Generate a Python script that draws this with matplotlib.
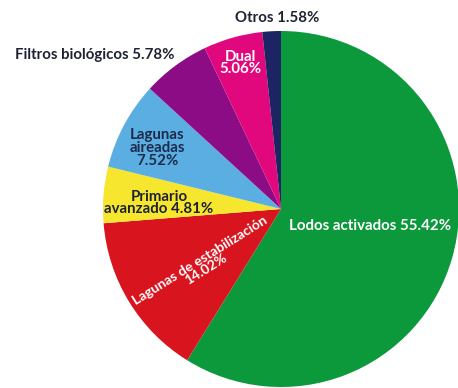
import matplotlib.pyplot as plt

# shares of treatment types (%)
tipos = ["Lodos activados", "Lagunas de estabilización", "Primario avanzado",
         "Lagunas aireadas", "Filtros biológicos", "Dual", "Otros"]
valores = [55.42, 14.02, 4.81, 7.52, 5.78, 5.06, 1.58]
colores = ["#0c993c", "#d8141e", "#f7e62e", "#5aaee2", "#8c0c86", "#e1077c", "#1c2463"]

W, H = 458, 388
cx, cy, r = 281, 209, 178

fig = plt.figure(figsize=(W / 100, H / 100), dpi=100)
ax = fig.add_axes([0, 0, 1, 1])
ax.pie(valores, colors=colores, startangle=90, counterclock=False,
       radius=1, wedgeprops=dict(linewidth=0))
ax.set_aspect("equal")
ax.set_xlim(-cx / r, (W - cx) / r)
ax.set_ylim(-(H - cy) / r, cy / r)
ax.axis("off")

def px(x, y):
    # pixel position -> axes fraction
    return x / W, 1 - y / H

fnt = dict(family="Lato", weight="bold", fontsize=10.8)
oscuro = "#1d2233"

ax.text(*px(289, 226), "Lodos activados 55.42%", transform=ax.transAxes,
        color="white", ha="left", va="center", **fnt)
ax.text(*px(203, 265), "Lagunas de estabilización\n14.02%", transform=ax.transAxes,
        color="white", ha="center", va="center", rotation=32,
        linespacing=0.85, family="Lato", weight="bold", fontsize=10)
ax.text(*px(159, 203), "Primario\navanzado 4.81%", transform=ax.transAxes,
        color=oscuro, ha="center", va="center", linespacing=0.85, **fnt)
ax.text(*px(157, 148), "Lagunas\naireadas\n7.52%", transform=ax.transAxes,
        color="#1d2a4a", ha="center", va="center", linespacing=0.9, **fnt)
ax.text(*px(95, 55), "Filtros biológicos 5.78%", transform=ax.transAxes,
        color=oscuro, ha="center", va="center", **fnt)
ax.text(*px(240, 63), "Dual\n5.06%", transform=ax.transAxes,
        color="white", ha="center", va="center", linespacing=0.9, **fnt)
ax.text(*px(277, 18), "Otros 1.58%", transform=ax.transAxes,
        color=oscuro, ha="center", va="center", **fnt)

fig.savefig("out.png", dpi=100)
